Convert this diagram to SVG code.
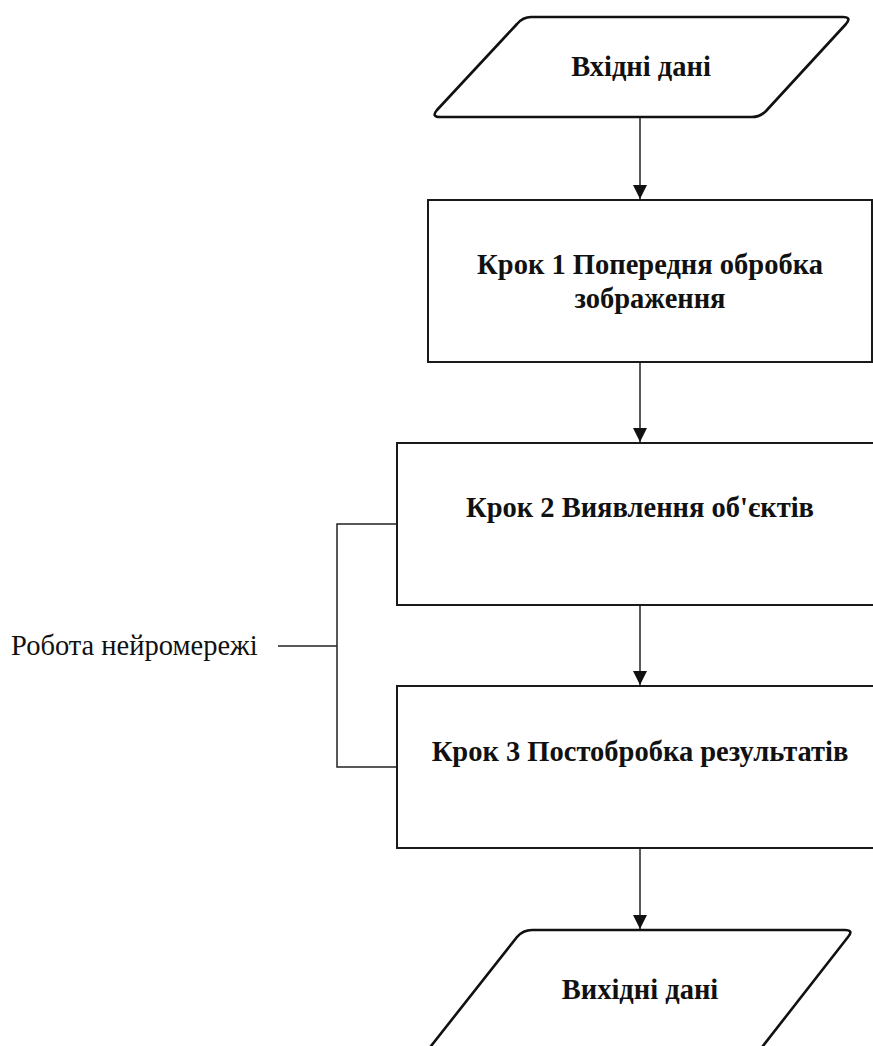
<svg xmlns="http://www.w3.org/2000/svg" width="873" height="1046" viewBox="0 0 873 1046">
<defs>
<style>
.shape{fill:#fff;stroke:#1a1a1a;stroke-width:2}
.para{fill:#fff;stroke:#111;stroke-width:2.6;stroke-linejoin:round}
.t{font-family:"Liberation Serif","Times New Roman",serif;font-size:28.5px;font-weight:bold;fill:#111;text-anchor:middle}
.lbl{font-family:"Liberation Serif","Times New Roman",serif;font-size:28.5px;fill:#111}
.conn{fill:none;stroke:#222;stroke-width:1.5}
</style>
<marker id="arr" viewBox="0 0 14 14" refX="14" refY="7" markerWidth="14" markerHeight="14" markerUnits="userSpaceOnUse" orient="auto">
<path d="M0,0 L14,7 L0,14 Z" fill="#111"/>
</marker>
</defs>
<rect width="873" height="1046" fill="#fff"/>
<g id="connectors">
<line class="conn" x1="640" y1="118" x2="640" y2="199" marker-end="url(#arr)"/>
<line class="conn" x1="640" y1="362" x2="640" y2="442" marker-end="url(#arr)"/>
<line class="conn" x1="640" y1="605" x2="640" y2="685" marker-end="url(#arr)"/>
<line class="conn" x1="640" y1="848" x2="640" y2="929" marker-end="url(#arr)"/>
<path class="conn" d="M397,524 H337 V767 H397"/>
<path class="conn" d="M278,646 H337"/>
</g>
<g id="input">
<path class="para" d="M531,17 H843 Q852,17 846,24 L766,111 Q760,117 752,117 H440 Q431,117 437,110 L517,24 Q523,17 531,17 Z"/>
<text class="t" x="641" y="76">Вхідні дані</text>
</g>
<g id="step1">
<rect class="shape" x="428" y="200" width="444" height="162"/>
<text class="t" x="650" y="274">Крок 1 Попередня обробка</text>
<text class="t" x="650" y="308">зображення</text>
</g>
<g id="step2">
<rect class="shape" x="397" y="443" width="500" height="162"/>
<text class="t" x="640" y="517">Крок 2 Виявлення об'єктів</text>
</g>
<g id="step3">
<rect class="shape" x="397" y="686" width="500" height="162"/>
<text class="t" x="640" y="761">Крок 3 Постобробка результатів</text>
</g>
<g id="output">
<path class="para" d="M532,930 H845 Q854,930 848,937 L752,1060 H420 L517,937 Q523,930 532,930 Z"/>
<text class="t" x="640" y="999">Вихідні дані</text>
</g>
<g id="label">
<text class="lbl" x="11" y="655">Робота нейромережі</text>
</g>
</svg>
